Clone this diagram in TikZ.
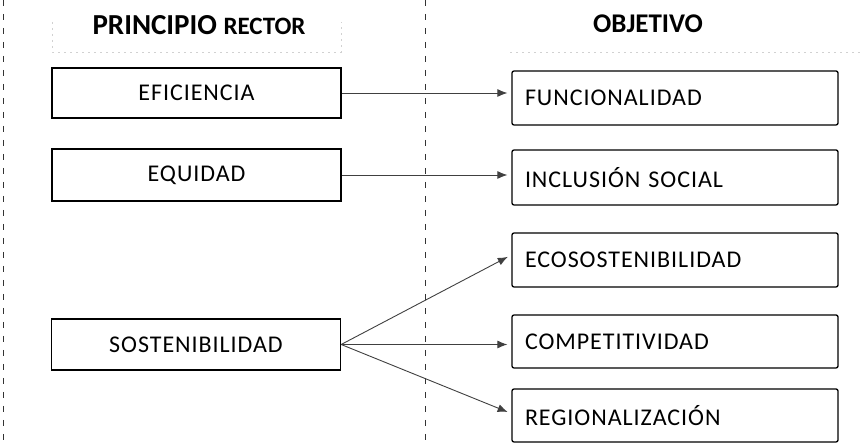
\documentclass[tikz,border=0pt]{standalone}
\usepackage{fontspec}
\setmainfont{Carlito}
\newfontfamily\boxfont[LetterSpace=4]{Carlito}
\usetikzlibrary{arrows.meta}
\tikzset{
  lbox/.style={draw=black, line width=1.3pt, minimum width=289pt, inner sep=0pt, font=\boxfont\fontsize{24}{26}\selectfont, text=black},
  rbox/.style={draw=black, line width=1.3pt, rounded corners=2pt, text width=300pt, inner xsep=13pt, inner ysep=0pt, align=left, font=\boxfont\fontsize{24}{26}\selectfont, text=black},
  conn/.style={draw=black!75, line width=0.9pt, -{Latex[length=10pt,width=8pt]}, shorten >=4pt},
  divider/.style={draw=black!80, line width=1pt, dash pattern=on 6pt off 8pt},
  faint/.style={draw=black!18, line width=0.6pt, dash pattern=on 2pt off 4pt}
}
\begin{document}
\begin{tikzpicture}[x=1pt,y=-1pt]
\useasboundingbox (0,0) rectangle (863,443);
% dividers
\coordinate (d1t) at (3,0); \coordinate (d1b) at (3,443);
\coordinate (d2t) at (425,0); \coordinate (d2b) at (425,443);
\path[divider] (d1t) -- (d1b);
\path[divider] (d2t) -- (d2b);
% faint header frames
\coordinate (hl1) at (52,22); \coordinate (hl2) at (52,52); \coordinate (hl3) at (341,52); \coordinate (hl4) at (341,22);
\path[faint] (hl1) -- (hl2) -- (hl3) -- (hl4);
\coordinate (hr1) at (510,52); \coordinate (hr2) at (863,52);
\path[faint] (hr1) -- (hr2);
% headers
\node (hdrl) at (199,25) {\bfseries\fontsize{29}{30}\selectfont PRINCIPIO \fontsize{25}{30}\selectfont RECTOR};
\node (hdrr) at (648,24) {\bfseries\fontsize{27}{30}\selectfont OBJETIVO};
% left boxes
\node[lbox, minimum height=50pt] (ef) at (196.5,93) {EFICIENCIA};
\node[lbox, minimum height=52pt] (eq) at (196.5,175) {EQUIDAD};
\node[lbox, minimum height=51pt] (sost) at (196,344.5) {SOSTENIBILIDAD};
% right boxes
\node[rbox, minimum height=54pt] (fun) at (675,98) {FUNCIONALIDAD};
\node[rbox, minimum height=55pt] (inc) at (675,177.5) {INCLUSIÓN SOCIAL};
\node[rbox, minimum height=54pt] (eco) at (675,260) {ECOSOSTENIBILIDAD};
\node[rbox, minimum height=53pt] (comp) at (675,341.5) {COMPETITIVIDAD};
\node[rbox, minimum height=53pt] (reg) at (675,415.5) {REGIONALIZACIÓN};
% connectors
\path[conn] (ef.east) -- (fun.west |- ef.east);
\path[conn] (eq.east) -- (inc.west |- eq.east);
\path[conn] (sost.east) -- ([yshift=5pt]eco.west);
\path[conn] (sost.east) -- (comp.west |- sost.east);
\path[conn] (sost.east) -- ([yshift=2pt]reg.west);
\end{tikzpicture}
\end{document}
